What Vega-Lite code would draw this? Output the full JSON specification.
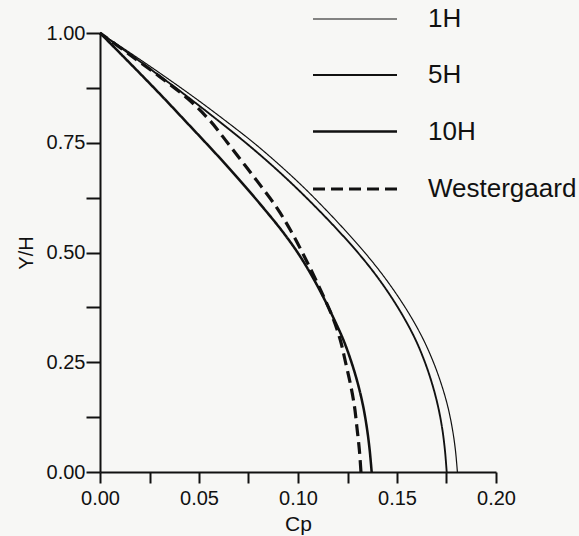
{
  "$schema": "https://vega.github.io/schema/vega-lite/v6.json",
  "autosize": "none",
  "width": 396,
  "height": 439,
  "padding": {"left": 100, "top": 33, "right": 83, "bottom": 64},
  "background": "#f7f7f5",
  "config": {
    "view": {"stroke": null},
    "font": "Liberation Sans",
    "axis": {"grid": false, "domainColor": "#111", "domainWidth": 2, "tickColor": "#111", "tickWidth": 2, "labelColor": "#111", "titleColor": "#111", "labelFont": "Liberation Sans", "titleFont": "Liberation Sans", "titleFontWeight": "normal"},
    "legend": {"labelFont": "Liberation Sans"}
  },
  "data": {"values": [
    {"series":"1H","Y":1.00,"Cp":0.0000},{"series":"1H","Y":0.95,"Cp":0.0168},{"series":"1H","Y":0.90,"Cp":0.0330},{"series":"1H","Y":0.85,"Cp":0.0486},{"series":"1H","Y":0.80,"Cp":0.0634},{"series":"1H","Y":0.75,"Cp":0.0776},{"series":"1H","Y":0.70,"Cp":0.0905},{"series":"1H","Y":0.65,"Cp":0.1025},{"series":"1H","Y":0.60,"Cp":0.1135},{"series":"1H","Y":0.55,"Cp":0.1239},{"series":"1H","Y":0.50,"Cp":0.1337},{"series":"1H","Y":0.45,"Cp":0.1426},{"series":"1H","Y":0.40,"Cp":0.1505},{"series":"1H","Y":0.35,"Cp":0.1575},{"series":"1H","Y":0.30,"Cp":0.1635},{"series":"1H","Y":0.25,"Cp":0.1684},{"series":"1H","Y":0.20,"Cp":0.1724},{"series":"1H","Y":0.15,"Cp":0.1756},{"series":"1H","Y":0.10,"Cp":0.1779},{"series":"1H","Y":0.05,"Cp":0.1795},{"series":"1H","Y":0.00,"Cp":0.1805},
    {"series":"5H","Y":1.00,"Cp":0.0000},{"series":"5H","Y":0.95,"Cp":0.0156},{"series":"5H","Y":0.90,"Cp":0.0308},{"series":"5H","Y":0.85,"Cp":0.0456},{"series":"5H","Y":0.80,"Cp":0.0598},{"series":"5H","Y":0.75,"Cp":0.0736},{"series":"5H","Y":0.70,"Cp":0.0865},{"series":"5H","Y":0.65,"Cp":0.0985},{"series":"5H","Y":0.60,"Cp":0.1097},{"series":"5H","Y":0.55,"Cp":0.1203},{"series":"5H","Y":0.50,"Cp":0.1302},{"series":"5H","Y":0.45,"Cp":0.1391},{"series":"5H","Y":0.40,"Cp":0.1469},{"series":"5H","Y":0.35,"Cp":0.1537},{"series":"5H","Y":0.30,"Cp":0.1595},{"series":"5H","Y":0.25,"Cp":0.1641},{"series":"5H","Y":0.20,"Cp":0.1678},{"series":"5H","Y":0.15,"Cp":0.1707},{"series":"5H","Y":0.10,"Cp":0.1728},{"series":"5H","Y":0.05,"Cp":0.1742},{"series":"5H","Y":0.00,"Cp":0.1751},
    {"series":"10H","Y":1.00,"Cp":0.0000},{"series":"10H","Y":0.95,"Cp":0.0110},{"series":"10H","Y":0.90,"Cp":0.0219},{"series":"10H","Y":0.85,"Cp":0.0326},{"series":"10H","Y":0.80,"Cp":0.0430},{"series":"10H","Y":0.75,"Cp":0.0534},{"series":"10H","Y":0.70,"Cp":0.0636},{"series":"10H","Y":0.65,"Cp":0.0734},{"series":"10H","Y":0.60,"Cp":0.0828},{"series":"10H","Y":0.55,"Cp":0.0918},{"series":"10H","Y":0.50,"Cp":0.0998},{"series":"10H","Y":0.45,"Cp":0.1066},{"series":"10H","Y":0.40,"Cp":0.1126},{"series":"10H","Y":0.35,"Cp":0.1180},{"series":"10H","Y":0.30,"Cp":0.1230},{"series":"10H","Y":0.25,"Cp":0.1270},{"series":"10H","Y":0.20,"Cp":0.1303},{"series":"10H","Y":0.15,"Cp":0.1329},{"series":"10H","Y":0.10,"Cp":0.1348},{"series":"10H","Y":0.05,"Cp":0.1362},{"series":"10H","Y":0.00,"Cp":0.1372},
    {"series":"Westergaard","Y":1.00,"Cp":0.0000},{"series":"Westergaard","Y":0.95,"Cp":0.0152},{"series":"Westergaard","Y":0.90,"Cp":0.0303},{"series":"Westergaard","Y":0.85,"Cp":0.0444},{"series":"Westergaard","Y":0.80,"Cp":0.0556},{"series":"Westergaard","Y":0.75,"Cp":0.0644},{"series":"Westergaard","Y":0.70,"Cp":0.0730},{"series":"Westergaard","Y":0.65,"Cp":0.0815},{"series":"Westergaard","Y":0.60,"Cp":0.0896},{"series":"Westergaard","Y":0.55,"Cp":0.0963},{"series":"Westergaard","Y":0.50,"Cp":0.1022},{"series":"Westergaard","Y":0.45,"Cp":0.1077},{"series":"Westergaard","Y":0.40,"Cp":0.1129},{"series":"Westergaard","Y":0.35,"Cp":0.1177},{"series":"Westergaard","Y":0.30,"Cp":0.1214},{"series":"Westergaard","Y":0.25,"Cp":0.1240},{"series":"Westergaard","Y":0.20,"Cp":0.1265},{"series":"Westergaard","Y":0.15,"Cp":0.1285},{"series":"Westergaard","Y":0.10,"Cp":0.1298},{"series":"Westergaard","Y":0.05,"Cp":0.1310},{"series":"Westergaard","Y":0.00,"Cp":0.1318}
  ]},
  "mark": {"type": "line", "interpolate": "catmull-rom"},
  "encoding": {
    "x": {"field": "Cp", "type": "quantitative", "title": "Cp",
      "scale": {"domain": [0, 0.2], "nice": false},
      "axis": {"values": [0, 0.025, 0.05, 0.075, 0.1, 0.125, 0.15, 0.175, 0.2],
        "labelExpr": "abs(datum.value*20 - round(datum.value*20)) < 0.001 ? format(datum.value, '.2f') : ''",
        "tickSize": 11, "labelPadding": 5, "labelFontSize": 20, "titleFontSize": 21, "titlePadding": 5, "labelFlush": false, "labelOverlap": false}},
    "y": {"field": "Y", "type": "quantitative", "title": "Y/H",
      "scale": {"domain": [0, 1], "nice": false},
      "axis": {"values": [0, 0.125, 0.25, 0.375, 0.5, 0.625, 0.75, 0.875, 1],
        "labelExpr": "abs(datum.value*4 - round(datum.value*4)) < 0.001 ? format(datum.value, '.2f') : ''",
        "tickSize": 14, "labelPadding": 1, "labelFontSize": 20, "titleFontSize": 20, "titlePadding": 10, "labelFlush": false, "labelOverlap": false}},
    "order": {"field": "Y", "type": "quantitative"},
    "color": {"field": "series", "type": "nominal",
      "scale": {"domain": ["1H", "5H", "10H", "Westergaard"], "range": ["#111", "#111", "#111", "#111"]},
      "legend": {"title": null, "orient": "none", "legendX": 211, "legendY": -57, "symbolType": "stroke", "symbolSize": 7056, "labelFontSize": 26, "labelColor": "#111", "labelOffset": 29, "rowPadding": -2.5, "padding": 0,
        "encode": {"symbols": {"update": {"strokeWidth": {"signal": "scale('strokeWidth', datum.value)"}}}}}},
    "strokeDash": {"field": "series", "type": "nominal",
      "scale": {"domain": ["1H", "5H", "10H", "Westergaard"], "range": [[1, 0], [1, 0], [1, 0], [12, 6]]},
      "legend": {"title": null}},
    "strokeWidth": {"field": "series", "type": "nominal",
      "scale": {"domain": ["1H", "5H", "10H", "Westergaard"], "range": [1.2, 3.2, 3.8, 2.4]},
      "legend": {"title": null}}
  }
}
